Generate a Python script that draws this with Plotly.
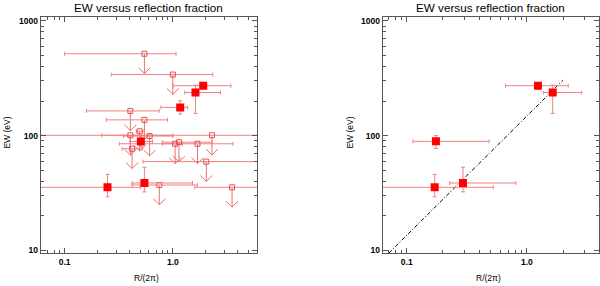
import plotly.graph_objects as go
import numpy as np

# ---------------- data ----------------
# Left panel: detections (filled squares)
det_x = [1.91, 1.62, 1.17, 0.506, 0.249, 0.546]
det_y = [272, 237, 176, 88.8, 35.4, 38.6]
det_xlo = [1.01, 1.29, 0.776, 0.40, 0.04, 0.42]
det_xhi = [3.44, 2.76, 1.37, 0.65, 0.50, 1.52]
det_ylo = [255, 156, 154, 80, 29.3, 32.3]
det_yhi = [290, 275, 201, 100, 45.8, 53]

# Left panel: upper limits (open squares + arrows)
lim_x = [0.546, 1.00, 0.405, 0.546, 0.405, 0.42, 0.61, 2.30, 1.05, 1.14, 1.69, 2.04, 0.75, 3.53, 0.494]
lim_y = [516, 340, 164, 137, 100.6, 76.8, 99, 100.6, 84.8, 87.5, 84.8, 59.3, 37.1, 35.4, 109]
lim_xlo = [0.10, 0.27, 0.159, 0.243, 0.04, 0.34, 0.35, 0.22, 0.80, 0.80, 0.32, 0.53, 0.42, 1.60, 0.46]
lim_xhi = [1.07, 2.34, 0.748, 0.894, 1.00, 0.52, 1.00, 8.0, 1.23, 2.31, 3.60, 7.0, 1.69, 7.0, 0.53]

# Right panel: detections
r_x = [1.236, 1.64, 0.175, 0.171, 0.294]
r_y = [272, 237, 89, 35.4, 38.6]
r_xlo = [0.664, 1.37, 0.113, 0.04, 0.228]
r_xhi = [2.21, 2.86, 0.485, 0.525, 0.81]
r_ylo = [255, 156, 77, 29.3, 32.3]
r_yhi = [290, 275, 100, 45.8, 53]

# Right panel: dash-dot relation
rel_x = [0.0712, 2.0]
rel_y = [9.5, 304]

x_tickvals = [0.1, 1.0]
x_ticktext = ["0.1", "1.0"]
y_tickvals = [10, 100, 1000]
y_ticktext = ["10", "100", "1000"]

title_text = "EW versus reflection fraction"
xtitle = "R/(2π)"
ytitle = "EW (eV)"

# ---------------- styles ----------------
BAR_COL = "rgb(240,130,130)"
OPEN_COL = "rgb(228,80,80)"
ARROW_COL = "rgb(236,110,110)"
FILL_COL = "rgb(255,0,0)"
AX_COL = "#555555"
FONT = "Liberation Sans"

ARROW_DEC = 20 / 116
HEAD_DY = 6 / 116


def errs(v, lo, hi):
    v = np.asarray(v, float)
    return dict(type="data", symmetric=False,
                array=(np.asarray(hi, float) - v).tolist(),
                arrayminus=(v - np.asarray(lo, float)).tolist())


def arrows(xs, ys, head_dx):
    px, py = [], []
    for x, y in zip(xs, ys):
        ye = y * 10 ** (-ARROW_DEC)
        px += [x, x, None, x * 10 ** (-head_dx), x, x * 10 ** head_dx, None]
        py += [y, ye, None, ye * 10 ** HEAD_DY, ye, ye * 10 ** HEAD_DY, None]
    return px, py


fig = go.Figure()

# upper limits (left)
ax_, ay_ = arrows(lim_x, lim_y, 6 / 109)
fig.add_trace(go.Scatter(x=ax_, y=ay_, mode="lines",
                         line=dict(color=ARROW_COL, width=1),
                         xaxis="x", yaxis="y", showlegend=False, hoverinfo="skip"))
ex = errs(lim_x, lim_xlo, lim_xhi)
ex.update(color=BAR_COL, thickness=1, width=2)
fig.add_trace(go.Scatter(x=lim_x, y=lim_y, mode="markers",
                         marker=dict(symbol="square-open", size=5,
                                     color=OPEN_COL, line=dict(width=1, color=OPEN_COL)),
                         error_x=ex, xaxis="x", yaxis="y", showlegend=False))

# detections (left)
ex = errs(det_x, det_xlo, det_xhi); ex.update(color=BAR_COL, thickness=1, width=2)
ey = errs(det_y, det_ylo, det_yhi); ey.update(color=BAR_COL, thickness=1, width=2)
fig.add_trace(go.Scatter(x=det_x, y=det_y, mode="markers",
                         marker=dict(symbol="square", size=8, color=FILL_COL),
                         error_x=ex, error_y=ey, xaxis="x", yaxis="y", showlegend=False))

# right: relation line
fig.add_trace(go.Scatter(x=rel_x, y=rel_y, mode="lines",
                         line=dict(color="black", width=1, dash="4px,2px,1px,2px"),
                         xaxis="x2", yaxis="y2", showlegend=False))
ex = errs(r_x, r_xlo, r_xhi); ex.update(color=BAR_COL, thickness=1, width=2)
ey = errs(r_y, r_ylo, r_yhi); ey.update(color=BAR_COL, thickness=1, width=2)
fig.add_trace(go.Scatter(x=r_x, y=r_y, mode="markers",
                         marker=dict(symbol="square", size=8, color=FILL_COL),
                         error_x=ex, error_y=ey, xaxis="x2", yaxis="y2", showlegend=False))


def minor_vals(lo, hi):
    vals = []
    for d in range(-3, 4):
        for m in range(2, 10):
            v = m * 10.0 ** d
            if lo < v < hi:
                vals.append(v)
    return vals


tickfont = dict(family=FONT, size=8.5, color="black", weight="bold")
common = dict(type="log", showgrid=False, zeroline=False, showline=True,
              linecolor=AX_COL, linewidth=1, mirror="ticks",
              ticks="inside", ticklen=5, tickcolor=AX_COL, tickwidth=1,
              tickfont=tickfont)

y_range = [0.974, 3.037]
left_xr = [np.log10(0.06), np.log10(6.0)]
right_xr = [-1.2, 0.6]

fig.update_layout(
    width=600, height=286, margin=dict(l=0, r=0, t=0, b=0),
    paper_bgcolor="white", plot_bgcolor="white",
    xaxis=dict(domain=[0.0678, 0.4283], range=left_xr, anchor="y",
               tickvals=x_tickvals, ticktext=x_ticktext,
               minor=dict(ticks="inside", ticklen=3, tickcolor=AX_COL,
                          tickvals=minor_vals(0.06, 6.0)),
               **common),
    yaxis=dict(domain=[0.1084, 0.9451], range=y_range, anchor="x",
               tickvals=y_tickvals, ticktext=y_ticktext,
               minor=dict(ticks="inside", ticklen=3, tickcolor=AX_COL,
                          tickvals=minor_vals(9, 1100)),
               **common),
    xaxis2=dict(domain=[0.6378, 0.9983], range=right_xr, anchor="y2",
                tickvals=x_tickvals, ticktext=x_ticktext,
                minor=dict(ticks="inside", ticklen=3, tickcolor=AX_COL,
                           tickvals=minor_vals(0.063, 4.0)),
                **common),
    yaxis2=dict(domain=[0.1084, 0.9451], range=y_range, anchor="x2",
                tickvals=y_tickvals, ticktext=y_ticktext,
                minor=dict(ticks="inside", ticklen=3, tickcolor=AX_COL,
                           tickvals=minor_vals(9, 1100)),
                **common),
)

ann = []
for cx, ylx in [((0.0678 + 0.4283) / 2, 7 / 600), ((0.6378 + 0.9983) / 2, 350 / 600)]:
    ann.append(dict(text=title_text, x=cx, y=1 - 6.5 / 286, xref="paper", yref="paper",
                    xanchor="center", yanchor="middle", showarrow=False,
                    font=dict(family=FONT, size=11.7, color="black")))
    ann.append(dict(text=xtitle, x=cx - 2 / 600, y=1 - 279.5 / 286, xref="paper", yref="paper",
                    xanchor="center", yanchor="middle", showarrow=False,
                    font=dict(family=FONT, size=8.5, color="black")))
    ann.append(dict(text=ytitle, x=ylx, y=1 - 133 / 286, xref="paper", yref="paper",
                    xanchor="center", yanchor="middle", showarrow=False, textangle=-90,
                    font=dict(family=FONT, size=8.5, color="black")))
fig.update_layout(annotations=ann)

fig.write_html("out.html", config={"displayModeBar": False},
               post_script="document.body.style.margin='0';document.body.style.padding='0';")
